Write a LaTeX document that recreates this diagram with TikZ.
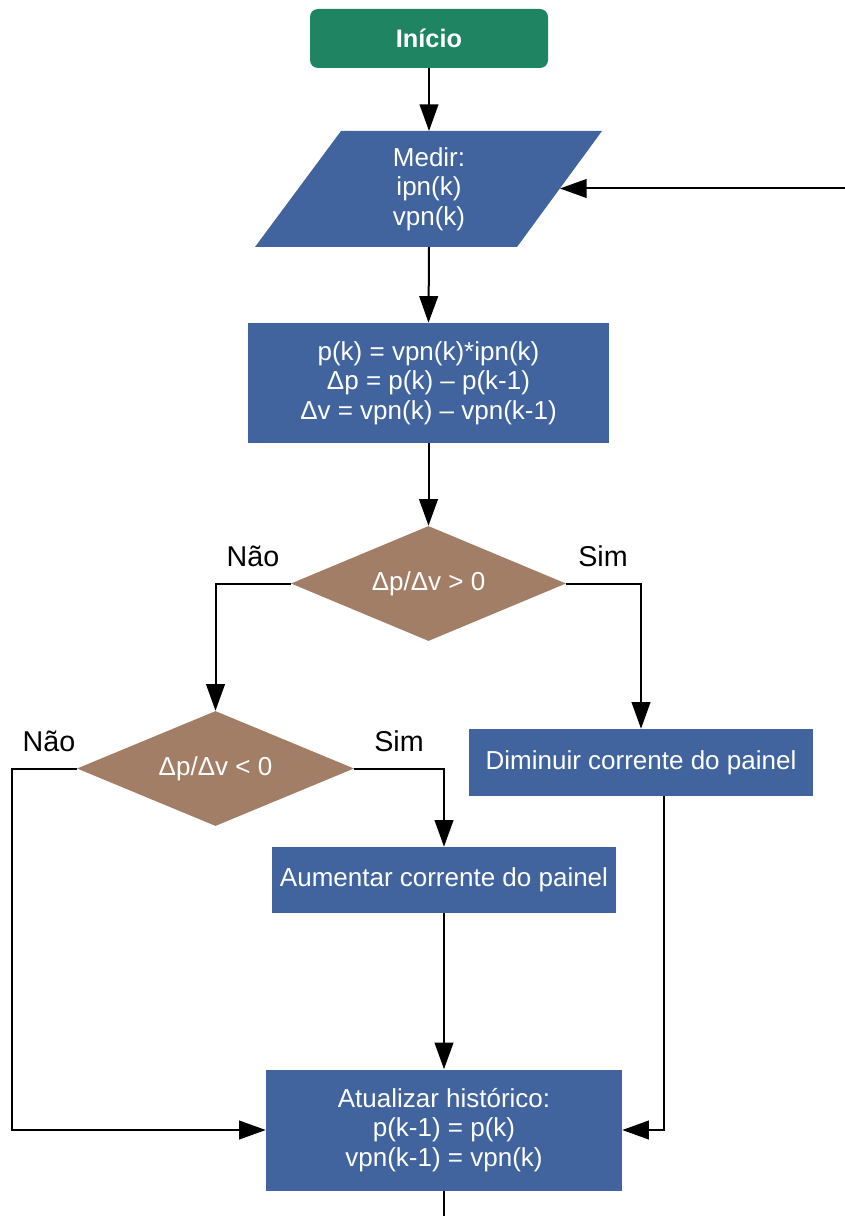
\documentclass[tikz,border=0pt]{standalone}
\usepackage{fontspec}
\setmainfont{Liberation Sans}
\usetikzlibrary{arrows.meta,shapes.geometric}
\definecolor{fcblue}{RGB}{65,100,158}
\definecolor{fcbrown}{RGB}{163,126,102}
\definecolor{fcgreen}{RGB}{30,132,98}
\tikzset{
  base/.style={inner sep=0pt, text=white, font=\fontsize{19.5}{22}\selectfont, align=center},
  procbox/.style={base, rectangle, fill=fcblue},
  startbox/.style={base, rectangle, rounded corners=6pt, fill=fcgreen, font=\fontsize{19}{22}\selectfont\bfseries},
  decision/.style={base, diamond, aspect=2.4, fill=fcbrown},
  lbl/.style={inner sep=0pt, font=\fontsize{21.5}{24}\selectfont},
  conn/.style={line width=1.5pt, -{Triangle[length=20pt,width=14pt]}},
  plain/.style={line width=1.5pt},
}
\begin{document}
\begin{tikzpicture}[x=0.75pt,y=-0.75pt]
\path[use as bounding box] (0,0) rectangle (845,1216);

\node[startbox, minimum width=178.5pt, minimum height=44.25pt] (start) at (429,38.5) {Início};
% input/output parallelogram
\fill[fcblue] (341,131) -- (602,131) -- (517,247) -- (255,247) -- cycle;
\node[base] (meas) at (429,189) {Medir:\\ ipn(k)\\vpn(k)};
\coordinate (measN) at (429,131);
\coordinate (measS) at (429,247);
\coordinate (measE) at (560,188.5);

\node[procbox, minimum width=270.75pt, minimum height=90pt] (calc) at (428.5,383) {p(k) = vpn(k)*ipn(k)\\Δp = p(k) – p(k-1)\\Δv = vpn(k) – vpn(k-1)};
\node[decision, minimum width=206.25pt, minimum height=86.25pt] (d1) at (428.5,583.5) {Δp/Δv > 0};
\node[decision, minimum width=207.75pt, minimum height=86.25pt] (d2) at (215.5,768.5) {Δp/Δv < 0};
\node[procbox, minimum width=258pt, minimum height=50.25pt] (dim) at (641,762.5) {Diminuir corrente do painel};
\node[procbox, minimum width=258pt, minimum height=49.5pt] (aum) at (444,880) {Aumentar corrente do painel};
\node[procbox, minimum width=267pt, minimum height=90.75pt] (atual) at (444,1130) {Atualizar histórico:\\p(k-1) = p(k)\\vpn(k-1) = vpn(k)};

\node[lbl] (n1) at (253,556) {Não};
\node[lbl] (s1) at (603,556) {Sim};
\node[lbl] (n2) at (49,741) {Não};
\node[lbl] (s2) at (399,741) {Sim};

\coordinate (loopin) at (845,188.5);
\coordinate (loopout) at (444,1216);

\draw[conn] (start.south) -- (measN);
\draw[conn] (loopin) -- (measE);
\draw[conn] (measS) -- (calc.north);
\draw[conn] (calc.south) -- (d1.north);
\draw[conn] (d1.west) -| (d2.north);
\draw[conn] (d1.east) -| (dim.north);
\draw[conn] (d2.east) -| (aum.north);
\draw[conn] (d2.west) -- ++(-65,0) |- (atual.west);
\draw[conn] (aum.south) -- (atual.north);
\draw[conn] ([xshift=17.25pt]dim.south) |- (atual.east);
\draw[plain] (atual.south) -- (loopout);
\end{tikzpicture}
\end{document}
